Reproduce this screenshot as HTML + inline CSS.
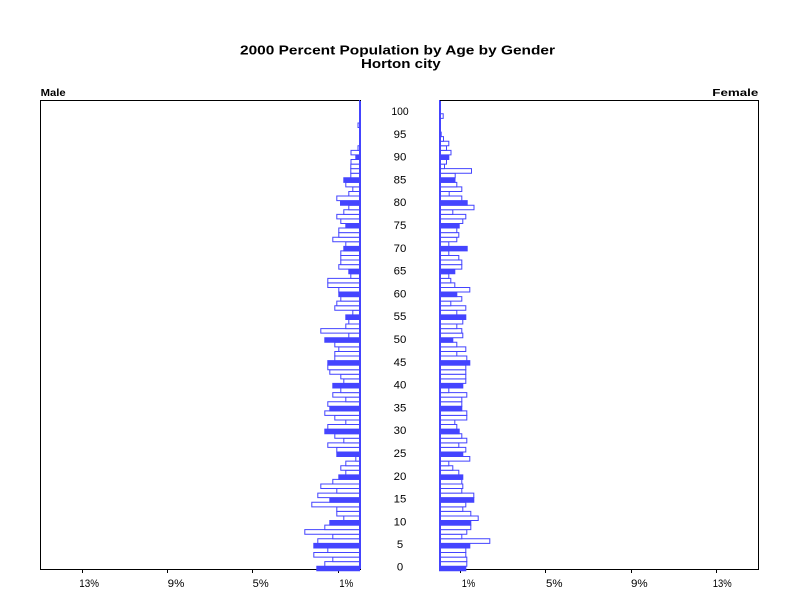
<!DOCTYPE html>
<html><head><meta charset="utf-8"><style>
html,body{margin:0;padding:0;background:#fff}
svg{display:block}
.b rect{vector-effect:non-scaling-stroke}
.b .f{fill:#4444ff}
text{font-family:"Liberation Sans",Arial,sans-serif;fill:#000}
</style></head><body>
<svg width="800" height="600" viewBox="0 0 800 600" xmlns="http://www.w3.org/2000/svg">
<rect x="0" y="0" width="800" height="600" fill="#fff"/>
<text x="240" y="54.5" font-size="13" font-weight="bold" textLength="315" lengthAdjust="spacingAndGlyphs">2000 Percent Population by Age by Gender</text>
<text x="361" y="68" font-size="13" font-weight="bold" textLength="79.7" lengthAdjust="spacingAndGlyphs">Horton city</text>
<text x="40.7" y="95.8" font-size="10" font-weight="bold" textLength="25" lengthAdjust="spacingAndGlyphs">Male</text>
<text x="712.3" y="95.8" font-size="10" font-weight="bold" textLength="46" lengthAdjust="spacingAndGlyphs">Female</text>
<g fill="none" stroke="#000" stroke-width="1">
<path d="M40.5 100.5H360.5V569.5H40.5Z"/>
<path d="M440.5 100.5H758.5V569.5H440.5Z"/>
<path d="M82.5 570V573M167.5 570V573M252.5 570V573M338.5 570V573M460.5 570V573M545.5 570V573M631.5 570V573M716.5 570V573"/>
</g>
<g font-size="11">
<text x="79.3" y="587" textLength="19.7" lengthAdjust="spacingAndGlyphs">13%</text>
<text x="167.7" y="587" textLength="16.7" lengthAdjust="spacingAndGlyphs">9%</text>
<text x="252.7" y="587" textLength="16" lengthAdjust="spacingAndGlyphs">5%</text>
<text x="339.3" y="587" textLength="14" lengthAdjust="spacingAndGlyphs">1%</text>
<text x="461.7" y="587" textLength="13.5" lengthAdjust="spacingAndGlyphs">1%</text>
<text x="546" y="587" textLength="16.5" lengthAdjust="spacingAndGlyphs">5%</text>
<text x="631" y="587" textLength="16.7" lengthAdjust="spacingAndGlyphs">9%</text>
<text x="712.7" y="587" textLength="19" lengthAdjust="spacingAndGlyphs">13%</text>
</g>
<g font-size="11" text-anchor="middle">
<text x="400" y="115" textLength="17.3" lengthAdjust="spacingAndGlyphs">100</text>
<text x="400" y="137.8" textLength="12.7" lengthAdjust="spacingAndGlyphs">95</text>
<text x="400" y="160.6" textLength="12.7" lengthAdjust="spacingAndGlyphs">90</text>
<text x="400" y="183.4" textLength="12.7" lengthAdjust="spacingAndGlyphs">85</text>
<text x="400" y="206.2" textLength="12.7" lengthAdjust="spacingAndGlyphs">80</text>
<text x="400" y="229" textLength="12.7" lengthAdjust="spacingAndGlyphs">75</text>
<text x="400" y="251.8" textLength="12.7" lengthAdjust="spacingAndGlyphs">70</text>
<text x="400" y="274.6" textLength="12.7" lengthAdjust="spacingAndGlyphs">65</text>
<text x="400" y="297.4" textLength="12.7" lengthAdjust="spacingAndGlyphs">60</text>
<text x="400" y="320.2" textLength="12.7" lengthAdjust="spacingAndGlyphs">55</text>
<text x="400" y="343" textLength="12.7" lengthAdjust="spacingAndGlyphs">50</text>
<text x="400" y="365.8" textLength="12.7" lengthAdjust="spacingAndGlyphs">45</text>
<text x="400" y="388.6" textLength="12.7" lengthAdjust="spacingAndGlyphs">40</text>
<text x="400" y="411.4" textLength="12.7" lengthAdjust="spacingAndGlyphs">35</text>
<text x="400" y="434.2" textLength="12.7" lengthAdjust="spacingAndGlyphs">30</text>
<text x="400" y="457" textLength="12.7" lengthAdjust="spacingAndGlyphs">25</text>
<text x="400" y="479.8" textLength="12.7" lengthAdjust="spacingAndGlyphs">20</text>
<text x="400" y="502.6" textLength="12.7" lengthAdjust="spacingAndGlyphs">15</text>
<text x="400" y="525.4" textLength="12.7" lengthAdjust="spacingAndGlyphs">10</text>
<text x="400" y="548.2" textLength="6.3" lengthAdjust="spacingAndGlyphs">5</text>
<text x="400" y="570.5" textLength="6.3" lengthAdjust="spacingAndGlyphs">0</text>
</g>
<g class="b" transform="translate(359.5 570.8) scale(-1 -4.57)" fill="#fff" stroke="#4444ff" stroke-width="1">
<rect class="f" y="0" width="42.7" height="1"/>
<rect y="1" width="34.7" height="1"/>
<rect y="2" width="26.7" height="1"/>
<rect y="3" width="45.7" height="1"/>
<rect y="4" width="31.7" height="1"/>
<rect class="f" y="5" width="45.7" height="1"/>
<rect y="6" width="41.7" height="1"/>
<rect y="7" width="26.7" height="1"/>
<rect y="8" width="54.7" height="1"/>
<rect y="9" width="34.7" height="1"/>
<rect class="f" y="10" width="29.7" height="1"/>
<rect y="11" width="15.7" height="1"/>
<rect y="12" width="22.7" height="1"/>
<rect y="13" width="22.7" height="1"/>
<rect y="14" width="47.7" height="1"/>
<rect class="f" y="15" width="29.7" height="1"/>
<rect y="16" width="41.7" height="1"/>
<rect y="17" width="22.7" height="1"/>
<rect y="18" width="38.7" height="1"/>
<rect y="19" width="26.7" height="1"/>
<rect class="f" y="20" width="20.7" height="1"/>
<rect y="21" width="13.7" height="1"/>
<rect y="22" width="18.7" height="1"/>
<rect y="23" width="13.7" height="1"/>
<rect y="24" width="3.7" height="1"/>
<rect class="f" y="25" width="22.7" height="1"/>
<rect y="26" width="22.7" height="1"/>
<rect y="27" width="31.7" height="1"/>
<rect y="28" width="15.7" height="1"/>
<rect y="29" width="24.7" height="1"/>
<rect class="f" y="30" width="34.7" height="1"/>
<rect y="31" width="31.7" height="1"/>
<rect y="32" width="13.7" height="1"/>
<rect y="33" width="24.7" height="1"/>
<rect y="34" width="34.7" height="1"/>
<rect class="f" y="35" width="29.7" height="1"/>
<rect y="36" width="31.7" height="1"/>
<rect y="37" width="13.7" height="1"/>
<rect y="38" width="26.7" height="1"/>
<rect y="39" width="18.7" height="1"/>
<rect class="f" y="40" width="26.7" height="1"/>
<rect y="41" width="15.7" height="1"/>
<rect y="42" width="18.7" height="1"/>
<rect y="43" width="29.7" height="1"/>
<rect y="44" width="31.7" height="1"/>
<rect class="f" y="45" width="31.7" height="1"/>
<rect y="46" width="24.7" height="1"/>
<rect y="47" width="24.7" height="1"/>
<rect y="48" width="20.7" height="1"/>
<rect y="49" width="24.7" height="1"/>
<rect class="f" y="50" width="34.7" height="1"/>
<rect y="51" width="10.7" height="1"/>
<rect y="52" width="38.7" height="1"/>
<rect y="53" width="13.7" height="1"/>
<rect y="54" width="10.7" height="1"/>
<rect class="f" y="55" width="13.7" height="1"/>
<rect y="56" width="6.7" height="1"/>
<rect y="57" width="24.7" height="1"/>
<rect y="58" width="22.7" height="1"/>
<rect y="59" width="18.7" height="1"/>
<rect class="f" y="60" width="20.7" height="1"/>
<rect y="61" width="20.7" height="1"/>
<rect y="62" width="31.7" height="1"/>
<rect y="63" width="31.7" height="1"/>
<rect y="64" width="8.7" height="1"/>
<rect class="f" y="65" width="10.7" height="1"/>
<rect y="66" width="20.7" height="1"/>
<rect y="67" width="18.7" height="1"/>
<rect y="68" width="18.7" height="1"/>
<rect y="69" width="18.7" height="1"/>
<rect class="f" y="70" width="15.7" height="1"/>
<rect y="71" width="13.7" height="1"/>
<rect y="72" width="26.7" height="1"/>
<rect y="73" width="20.7" height="1"/>
<rect y="74" width="20.7" height="1"/>
<rect class="f" y="75" width="13.7" height="1"/>
<rect y="76" width="18.7" height="1"/>
<rect y="77" width="22.7" height="1"/>
<rect y="78" width="15.7" height="1"/>
<rect y="79" width="10.7" height="1"/>
<rect class="f" y="80" width="19" height="1"/>
<rect y="81" width="22.7" height="1"/>
<rect y="82" width="10.7" height="1"/>
<rect y="83" width="6.7" height="1"/>
<rect y="84" width="13.7" height="1"/>
<rect class="f" y="85" width="15.7" height="1"/>
<rect y="86" width="8.7" height="1"/>
<rect y="87" width="8.7" height="1"/>
<rect y="88" width="8.7" height="1"/>
<rect y="89" width="8.5" height="1"/>
<rect class="f" y="90" width="3.7" height="1"/>
<rect y="91" width="8.5" height="1"/>
<rect y="92" width="1.5" height="1"/>
<rect y="97" width="1.5" height="1"/>
</g>
<g class="b" transform="translate(439.5 570.8) scale(1 -4.57)" fill="#fff" stroke="#4444ff" stroke-width="1">
<rect class="f" y="0" width="26.3" height="1"/>
<rect y="1" width="27.3" height="1"/>
<rect y="2" width="27.3" height="1"/>
<rect y="3" width="26.3" height="1"/>
<rect y="4" width="26.3" height="1"/>
<rect class="f" y="5" width="30.3" height="1"/>
<rect y="6" width="50.3" height="1"/>
<rect y="7" width="22.3" height="1"/>
<rect y="8" width="27.3" height="1"/>
<rect y="9" width="31.3" height="1"/>
<rect class="f" y="10" width="31.3" height="1"/>
<rect y="11" width="38.7" height="1"/>
<rect y="12" width="31.3" height="1"/>
<rect y="13" width="23.3" height="1"/>
<rect y="14" width="26.3" height="1"/>
<rect class="f" y="15" width="34.3" height="1"/>
<rect y="16" width="34.3" height="1"/>
<rect y="17" width="22.3" height="1"/>
<rect y="18" width="23.3" height="1"/>
<rect y="19" width="22.3" height="1"/>
<rect class="f" y="20" width="23.3" height="1"/>
<rect y="21" width="19.3" height="1"/>
<rect y="22" width="13.3" height="1"/>
<rect y="23" width="9.3" height="1"/>
<rect y="24" width="30.3" height="1"/>
<rect class="f" y="25" width="23.3" height="1"/>
<rect y="26" width="26.3" height="1"/>
<rect y="27" width="19.3" height="1"/>
<rect y="28" width="27.3" height="1"/>
<rect y="29" width="22.3" height="1"/>
<rect class="f" y="30" width="19.7" height="1"/>
<rect y="31" width="17.3" height="1"/>
<rect y="32" width="15.3" height="1"/>
<rect y="33" width="27.3" height="1"/>
<rect y="34" width="27.3" height="1"/>
<rect class="f" y="35" width="22.3" height="1"/>
<rect y="36" width="22.3" height="1"/>
<rect y="37" width="22.3" height="1"/>
<rect y="38" width="27.3" height="1"/>
<rect y="39" width="9.3" height="1"/>
<rect class="f" y="40" width="23.3" height="1"/>
<rect y="41" width="26.3" height="1"/>
<rect y="42" width="26.3" height="1"/>
<rect y="43" width="26.3" height="1"/>
<rect y="44" width="26.3" height="1"/>
<rect class="f" y="45" width="30.3" height="1"/>
<rect y="46" width="27.3" height="1"/>
<rect y="47" width="17.3" height="1"/>
<rect y="48" width="26.3" height="1"/>
<rect y="49" width="17.3" height="1"/>
<rect class="f" y="50" width="13.3" height="1"/>
<rect y="51" width="23.3" height="1"/>
<rect y="52" width="22.3" height="1"/>
<rect y="53" width="17.3" height="1"/>
<rect y="54" width="23.3" height="1"/>
<rect class="f" y="55" width="26.3" height="1"/>
<rect y="56" width="17.3" height="1"/>
<rect y="57" width="26.3" height="1"/>
<rect y="58" width="11.3" height="1"/>
<rect y="59" width="22.3" height="1"/>
<rect class="f" y="60" width="17.3" height="1"/>
<rect y="61" width="30.3" height="1"/>
<rect y="62" width="15.3" height="1"/>
<rect y="63" width="11.3" height="1"/>
<rect y="64" width="9.3" height="1"/>
<rect class="f" y="65" width="15.3" height="1"/>
<rect y="66" width="22.3" height="1"/>
<rect y="67" width="22.3" height="1"/>
<rect y="68" width="19.3" height="1"/>
<rect y="69" width="9.3" height="1"/>
<rect class="f" y="70" width="27.7" height="1"/>
<rect y="71" width="9.3" height="1"/>
<rect y="72" width="17.3" height="1"/>
<rect y="73" width="19.3" height="1"/>
<rect y="74" width="17.3" height="1"/>
<rect class="f" y="75" width="19.7" height="1"/>
<rect y="76" width="23.3" height="1"/>
<rect y="77" width="26.3" height="1"/>
<rect y="78" width="13.3" height="1"/>
<rect y="79" width="34.5" height="1"/>
<rect class="f" y="80" width="27.7" height="1"/>
<rect y="81" width="22.3" height="1"/>
<rect y="82" width="9.7" height="1"/>
<rect y="83" width="22.3" height="1"/>
<rect y="84" width="17.3" height="1"/>
<rect class="f" y="85" width="15.5" height="1"/>
<rect y="86" width="15.7" height="1"/>
<rect y="87" width="32" height="1"/>
<rect y="88" width="5" height="1"/>
<rect y="89" width="7" height="1"/>
<rect class="f" y="90" width="9.3" height="1"/>
<rect y="91" width="11.5" height="1"/>
<rect y="92" width="7" height="1"/>
<rect y="93" width="9.3" height="1"/>
<rect y="94" width="4" height="1"/>
<rect class="f" y="95" width="1.7" height="1"/>
<rect y="99" width="3.7" height="1"/>
</g>
<g stroke="#4444ff" stroke-width="1" fill="none">
<path d="M359.5 100V570M360.5 101V569M439.5 100V570M440.5 101V569"/>
</g>
</svg>
</body></html>
